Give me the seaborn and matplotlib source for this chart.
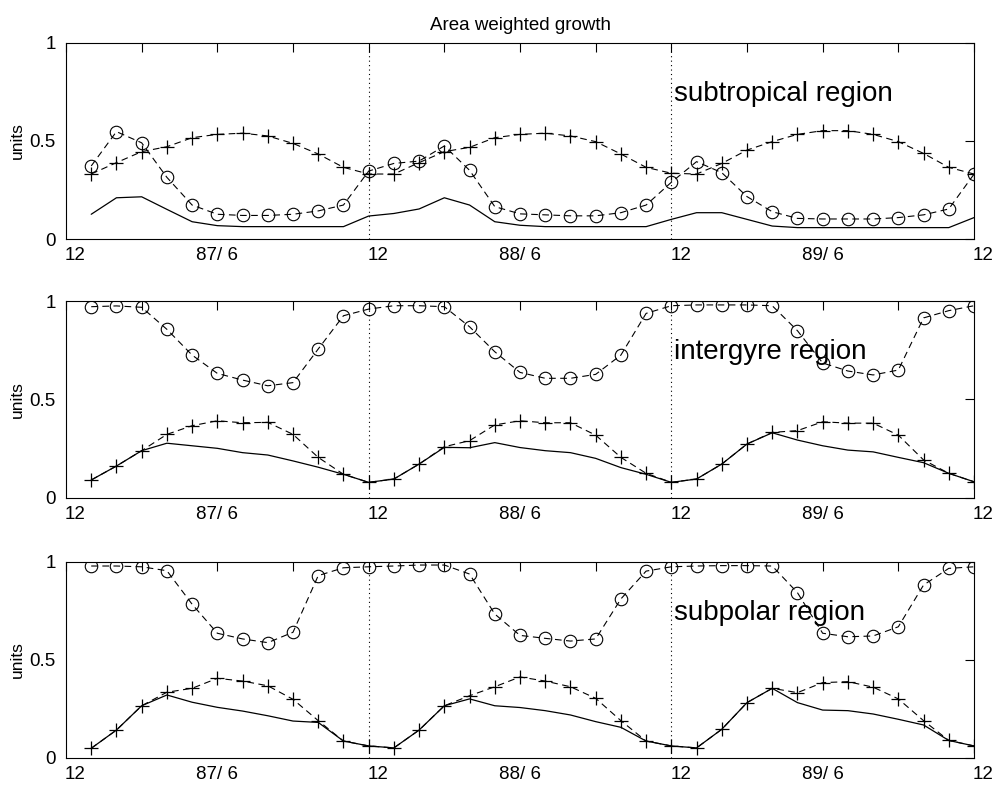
import matplotlib
matplotlib.use("Agg")
import matplotlib.pyplot as plt
import matplotlib.transforms as mtransforms
import seaborn as sns
import pandas as pd

# ---------------- data ----------------
months = [1, 2, 3, 4, 5, 6, 7, 8, 9, 10, 11, 12,
          13, 14, 15, 16, 17, 18, 19, 20, 21, 22, 23, 24,
          25, 26, 27, 28, 29, 30, 31, 32, 33, 34, 35, 36]

tick_pos = [0, 3, 6, 9, 12, 15, 18, 21, 24, 27, 30, 33, 36]
tick_labels = ["12", "", "87/ 6", "", "12", "", "88/ 6", "", "12", "", "89/ 6", "", "12"]
year_breaks = [12, 24]

regions = ["subtropical region", "intergyre region", "subpolar region"]

circ_sub = [0.372, 0.547, 0.49, 0.314, 0.173, 0.126, 0.12, 0.12, 0.126, 0.143, 0.173, 0.346,
            0.385, 0.397, 0.474, 0.35, 0.165, 0.128, 0.123, 0.118, 0.118, 0.134, 0.173, 0.289,
            0.394, 0.338, 0.216, 0.139, 0.105, 0.102, 0.102, 0.102, 0.109, 0.123, 0.153, 0.33]
plus_sub = [0.331, 0.389, 0.445, 0.47, 0.516, 0.533, 0.539, 0.525, 0.487, 0.433, 0.365, 0.331,
            0.331, 0.389, 0.445, 0.467, 0.516, 0.533, 0.539, 0.525, 0.496, 0.433, 0.365, 0.335,
            0.331, 0.385, 0.453, 0.496, 0.533, 0.552, 0.552, 0.533, 0.496, 0.436, 0.365, 0.331]
solid_sub = [0.126, 0.21, 0.215, 0.151, 0.088, 0.068, 0.063, 0.063, 0.063, 0.063, 0.063, 0.117,
             0.13, 0.153, 0.21, 0.173, 0.088, 0.07, 0.063, 0.063, 0.063, 0.063, 0.063, 0.1,
             0.134, 0.134, 0.1, 0.066, 0.058, 0.058, 0.058, 0.058, 0.058, 0.058, 0.058, 0.109]

circ_int = [0.971, 0.975, 0.968, 0.856, 0.725, 0.632, 0.598, 0.569, 0.585, 0.756, 0.925, 0.959,
            0.976, 0.976, 0.971, 0.869, 0.742, 0.637, 0.607, 0.607, 0.627, 0.725, 0.937, 0.976,
            0.98, 0.98, 0.98, 0.976, 0.849, 0.685, 0.644, 0.624, 0.649, 0.914, 0.951, 0.976]
plus_int = [0.09, 0.161, 0.239, 0.322, 0.366, 0.391, 0.381, 0.383, 0.322, 0.205, 0.119, 0.078,
            0.095, 0.171, 0.259, 0.29, 0.37, 0.391, 0.381, 0.381, 0.318, 0.205, 0.124, 0.078,
            0.095, 0.171, 0.273, 0.332, 0.341, 0.386, 0.379, 0.379, 0.318, 0.192, 0.124, 0.081]
solid_int = [0.09, 0.161, 0.239, 0.277, 0.264, 0.251, 0.229, 0.217, 0.187, 0.155, 0.119, 0.078,
             0.095, 0.171, 0.256, 0.254, 0.28, 0.255, 0.239, 0.229, 0.2, 0.153, 0.119, 0.078,
             0.095, 0.171, 0.273, 0.33, 0.293, 0.264, 0.242, 0.233, 0.205, 0.178, 0.124, 0.081]

circ_pol = [0.978, 0.978, 0.974, 0.954, 0.783, 0.635, 0.606, 0.587, 0.64, 0.929, 0.969, 0.974,
            0.978, 0.983, 0.983, 0.937, 0.733, 0.624, 0.609, 0.595, 0.606, 0.81, 0.952, 0.974,
            0.978, 0.98, 0.98, 0.978, 0.842, 0.635, 0.617, 0.621, 0.668, 0.881, 0.966, 0.974]
plus_pol = [0.048, 0.141, 0.265, 0.334, 0.354, 0.405, 0.391, 0.367, 0.298, 0.189, 0.085, 0.06,
            0.05, 0.141, 0.265, 0.316, 0.362, 0.412, 0.391, 0.362, 0.303, 0.189, 0.085, 0.06,
            0.05, 0.145, 0.281, 0.354, 0.332, 0.383, 0.388, 0.36, 0.3, 0.189, 0.088, 0.06]
solid_pol = [0.048, 0.141, 0.265, 0.32, 0.283, 0.257, 0.238, 0.214, 0.187, 0.18, 0.085, 0.06,
             0.05, 0.141, 0.265, 0.3, 0.265, 0.256, 0.24, 0.218, 0.184, 0.155, 0.085, 0.06,
             0.05, 0.145, 0.281, 0.354, 0.281, 0.243, 0.24, 0.223, 0.196, 0.167, 0.088, 0.06]

panels = [(circ_sub, plus_sub, solid_sub),
          (circ_int, plus_int, solid_int),
          (circ_pol, plus_pol, solid_pol)]

# ---------------- style ----------------
sns.set_style("white")
plt.rcParams["font.family"] = ["Liberation Sans", "DejaVu Sans"]
plt.rcParams["axes.linewidth"] = 0.8
plt.rcParams["text.color"] = "black"
plt.rcParams["axes.labelcolor"] = "black"
plt.rcParams["xtick.color"] = "black"
plt.rcParams["ytick.color"] = "black"

fig = plt.figure(figsize=(9.98, 7.88), dpi=100)
W, H = 998.0, 788.0
ax_px = [(42.7, 239.0), (301.0, 497.7), (561.7, 757.7)]
left_px, right_px = 66.0, 974.0

shift = mtransforms.ScaledTranslation(9.5 / 100.0, 0, fig.dpi_scale_trans)

dash = (0, (6, 4))
for i, ((circ, plus, solid), (top, bot)) in enumerate(zip(panels, ax_px)):
    ax = fig.add_axes([left_px / W, 1 - bot / H, (right_px - left_px) / W, (bot - top) / H])
    df = pd.DataFrame({"month": months, "circ": circ, "plus": plus, "solid": solid})

    sns.lineplot(data=df, x="month", y="solid", ax=ax, color="black", lw=0.9,
                 estimator=None, sort=False)
    sns.lineplot(data=df, x="month", y="plus", ax=ax, color="black", lw=0.8,
                 linestyle=dash, marker="+", markersize=10, markeredgewidth=0.9,
                 markeredgecolor="black", estimator=None, sort=False)
    sns.lineplot(data=df, x="month", y="circ", ax=ax, color="black", lw=0.8,
                 linestyle=dash, marker="o", markersize=9, markeredgewidth=0.8,
                 markerfacecolor="none", markeredgecolor="black",
                 estimator=None, sort=False)

    for xb in year_breaks:
        ax.axvline(xb, color="black", lw=0.8, linestyle=(0, (1, 3)))

    ax.set_xlim(0, 36)
    ax.set_ylim(0, 1)
    ax.set_xticks(tick_pos)
    ax.set_xticklabels(tick_labels)
    ax.set_yticks([0, 0.5, 1])
    ax.set_yticklabels(["0", "0.5", "1"])
    ax.tick_params(axis="both", direction="in", length=6.5, width=0.8,
                   top=True, right=True, labelsize=13.5, colors="black")
    ax.tick_params(axis="x", pad=6)
    ax.tick_params(axis="y", pad=7.5)
    ax.set_xlabel("")
    ax.set_ylabel("units", fontsize=12.5, labelpad=3, color="black")
    for s in ax.spines.values():
        s.set_color("black")
        s.set_linewidth(0.8)

    # MATLAB-style offset of the "12" month labels
    for tick, lab in zip(ax.xaxis.get_major_ticks(), tick_labels):
        if lab == "12":
            tick.label1.set_transform(tick.label1.get_transform() + shift)

    ax.text(24.1, 0.705, regions[i], fontsize=20, ha="left", va="baseline", color="black")

    if i == 0:
        ax.set_title("Area weighted growth", fontsize=13.5, pad=9, color="black")

fig.savefig("out.png", dpi=100)
